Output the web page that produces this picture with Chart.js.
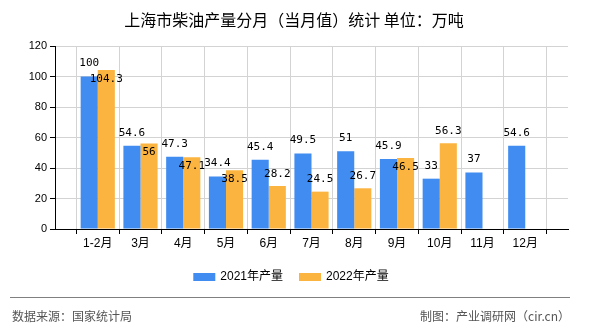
<!DOCTYPE html>
<html><head><meta charset="utf-8">
<script src="https://cdn.jsdelivr.net/npm/chart.js@4/dist/chart.umd.min.js"></script>
<style>html,body{margin:0;padding:0;background:#fff}canvas{display:block}</style>
</head><body>
<canvas id="c" width="590" height="330"></canvas>
<script>
const titleText = '上海市柴油产量分月（当月值）统计 单位：万吨';
const categories = ['1-2月','3月','4月','5月','6月','7月','8月','9月','10月','11月','12月'];
const values2021 = [100, 54.6, 47.3, 34.4, 45.4, 49.5, 51, 45.9, 33, 37, 54.6];
const values2022 = [104.3, 56, 47.1, 38.5, 28.2, 24.5, 26.7, 46.5, 56.3, null, null];
const seriesNames = ['2021年产量', '2022年产量'];
const seriesColors = ['#418CF0', '#FCB441'];
const yMin = 0, yMax = 120, yStep = 20;
const sourceText = '数据来源：国家统计局';
const creditText = '制图：产业调研网（cir.cn）';

// empty slots at both ends so the categories sit one slot in from each edge
const labels = [''].concat(categories, ['']);
const pad = arr => [null].concat(arr, [null]);

const decor = {
  id: 'decor',
  afterDatasetsDraw(chart) {
    const ctx = chart.ctx;
    ctx.save();
    // data labels
    ctx.font = '11px "DejaVu Sans Mono"';
    ctx.fillStyle = '#000';
    ctx.textAlign = 'center';
    ctx.textBaseline = 'middle';
    const m0 = chart.getDatasetMeta(0), m1 = chart.getDatasetMeta(1);
    const ds0 = chart.data.datasets[0].data, ds1 = chart.data.datasets[1].data;
    for (let i = 0; i < labels.length; i++) {
      let yb = null;
      if (ds0[i] != null) {
        const b = m0.data[i];
        yb = b.y - 13;
        ctx.fillText(String(ds0[i]), b.x, yb);
      }
      if (ds1[i] != null) {
        const b = m1.data[i];
        let y = b.y - 12;
        if (yb != null && Math.abs(y - yb) < 12) y = b.y + 9;
        ctx.fillText(String(ds1[i]), b.x, y);
      }
    }
    ctx.restore();
  },
  afterDraw(chart) {
    const ctx = chart.ctx;
    ctx.save();
    // title
    ctx.font = '16px "Noto Sans CJK SC"';
    ctx.fillStyle = '#000';
    ctx.textAlign = 'center';
    ctx.textBaseline = 'middle';
    ctx.fillText(titleText, 294, 20);
    // legend
    ctx.font = '12px "Liberation Sans", "Noto Sans CJK SC"';
    ctx.textAlign = 'left';
    const boxW = 22, boxH = 8, gap = 5, itemGap = 16;
    const widths = seriesNames.map(n => ctx.measureText(n).width);
    let total = 0;
    widths.forEach((w, i) => { total += boxW + gap + w + (i < widths.length - 1 ? itemGap : 0); });
    let x = 291 - total / 2;
    const ly = 277;
    seriesNames.forEach((n, i) => {
      ctx.fillStyle = seriesColors[i];
      ctx.fillRect(x, ly - boxH / 2, boxW, boxH);
      ctx.fillStyle = '#000';
      ctx.fillText(n, x + boxW + gap, ly);
      x += boxW + gap + widths[i] + itemGap;
    });
    // separator
    ctx.strokeStyle = '#808080';
    ctx.lineWidth = 1;
    ctx.beginPath();
    ctx.moveTo(10, 297.5);
    ctx.lineTo(570, 297.5);
    ctx.stroke();
    // footer
    ctx.font = '12px "Noto Sans CJK SC"';
    ctx.fillStyle = '#555';
    ctx.textAlign = 'left';
    ctx.fillText(sourceText, 12, 316);
    ctx.textAlign = 'right';
    ctx.fillText(creditText, 570, 316);
    ctx.restore();
  }
};

new Chart(document.getElementById('c'), {
  type: 'bar',
  data: {
    labels: labels,
    datasets: [
      { label: seriesNames[0], data: pad(values2021), backgroundColor: seriesColors[0], barPercentage: 1, categoryPercentage: 0.8 },
      { label: seriesNames[1], data: pad(values2022), backgroundColor: seriesColors[1], barPercentage: 1, categoryPercentage: 0.8 }
    ]
  },
  options: {
    responsive: false,
    animation: false,
    devicePixelRatio: 1,
    layout: { padding: { top: 46, right: 22, bottom: 66, left: 0 } },
    plugins: { legend: { display: false }, title: { display: false }, tooltip: { enabled: false } },
    scales: {
      x: {
        offset: false,
        grid: { color: '#d3d3d3', tickColor: '#000', tickLength: 5, drawOnChartArea: true },
        border: { color: '#000', width: 1 },
        ticks: { color: '#000', font: { family: '"Liberation Sans", "Noto Sans CJK SC"', size: 12 }, padding: 2, maxRotation: 0, autoSkip: false },
        afterFit(s) { s.height = 35; }
      },
      y: {
        min: yMin, max: yMax,
        grid: { color: '#d3d3d3', tickColor: '#000', tickLength: 5 },
        border: { color: '#000', width: 1 },
        ticks: { stepSize: yStep, color: '#000', font: { family: '"Liberation Sans"', size: 11 }, padding: 3 },
        afterFit(s) { s.width = 55; }
      }
    }
  },
  plugins: [decor]
});
</script>
</body></html>
